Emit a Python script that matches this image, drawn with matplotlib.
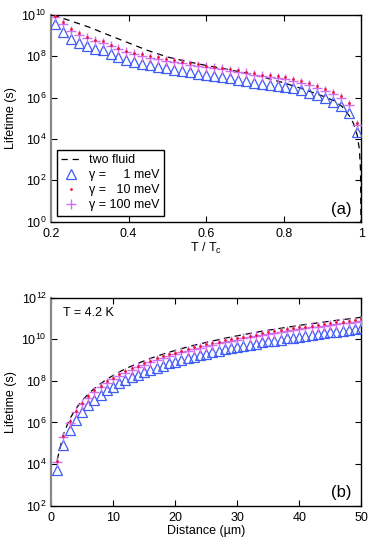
import matplotlib
matplotlib.use("Agg")
import matplotlib.pyplot as plt
import numpy as np

plt.rcParams['font.family'] = ['Liberation Sans', 'DejaVu Sans']
plt.rcParams['mathtext.fontset'] = 'custom'
plt.rcParams['mathtext.rm'] = 'Liberation Sans'
plt.rcParams['mathtext.it'] = 'Liberation Sans:italic'
plt.rcParams['lines.scale_dashes'] = False

# ---------------- data: panel (a) ----------------
t_red = [0.210, 0.2305, 0.251, 0.2715, 0.292, 0.3125, 0.333, 0.3535, 0.374, 0.3945,
         0.415, 0.4355, 0.456, 0.4765, 0.497, 0.5175, 0.538, 0.5585, 0.579, 0.5995,
         0.620, 0.6405, 0.661, 0.6815, 0.702, 0.7225, 0.743, 0.7635, 0.784, 0.8045,
         0.825, 0.8455, 0.866, 0.8865, 0.907, 0.9275, 0.948, 0.9685, 0.989]
# log10 lifetime, gamma = 10 meV
log_a_10 = [9.97, 9.66, 9.33, 9.12, 8.95, 8.80, 8.74, 8.56, 8.42, 8.28,
            8.18, 8.10, 8.02, 7.95, 7.87, 7.81, 7.74, 7.68, 7.61, 7.55,
            7.50, 7.45, 7.39, 7.32, 7.25, 7.18, 7.11, 7.08, 7.03, 6.98,
            6.90, 6.81, 6.70, 6.56, 6.42, 6.26, 6.08, 5.73, 4.78]
# gamma = 1 meV
log_a_1 = [9.58, 9.20, 8.86, 8.66, 8.50, 8.35, 8.29, 8.11, 7.97, 7.83,
           7.73, 7.65, 7.57, 7.50, 7.42, 7.36, 7.29, 7.23, 7.16, 7.10,
           7.05, 7.00, 6.94, 6.87, 6.80, 6.73, 6.66, 6.63, 6.58, 6.53,
           6.45, 6.36, 6.25, 6.11, 5.97, 5.81, 5.62, 5.25, 4.35]
# gamma = 100 meV
log_a_100 = [9.90, 9.58, 9.25, 9.04, 8.87, 8.72, 8.66, 8.48, 8.34, 8.20,
             8.10, 8.02, 7.94, 7.87, 7.79, 7.73, 7.66, 7.60, 7.53, 7.47,
             7.42, 7.37, 7.31, 7.24, 7.17, 7.10, 7.03, 7.00, 6.95, 6.90,
             6.82, 6.73, 6.62, 6.48, 6.34, 6.18, 6.00, 5.65, 4.70]
# two fluid model
t_tf = [0.205, 0.25, 0.30, 0.35, 0.40, 0.45, 0.50, 0.55, 0.60, 0.65,
        0.70, 0.75, 0.80, 0.85, 0.90, 0.93, 0.95, 0.97, 0.98, 0.99,
        0.995, 0.998, 0.9995]
log_a_tf = [10.00, 9.72, 9.40, 9.02, 8.65, 8.28, 7.97, 7.75, 7.56, 7.39,
            7.20, 6.98, 6.72, 6.42, 6.08, 5.85, 5.58, 5.10, 4.75, 4.15,
            3.50, 2.50, -1.0]

# ---------------- data: panel (b) ----------------
dist = [1, 2, 3, 4, 5, 6, 7, 8, 9, 10, 11, 12, 13, 14, 15, 16, 17, 18, 19, 20,
        21, 22, 23, 24, 25, 26, 27, 28, 29, 30, 31, 32, 33, 34, 35, 36, 37, 38, 39, 40,
        41, 42, 43, 44, 45, 46, 47, 48, 49, 50]
log_b_1 = [3.72, 4.92, 5.63, 6.13, 6.52, 6.83, 7.10, 7.33, 7.54, 7.72,
           7.89, 8.04, 8.18, 8.30, 8.42, 8.54, 8.64, 8.74, 8.84, 8.92,
           9.01, 9.09, 9.17, 9.24, 9.31, 9.38, 9.44, 9.51, 9.57, 9.63,
           9.68, 9.74, 9.79, 9.85, 9.90, 9.94, 9.99, 10.04, 10.08, 10.13,
           10.17, 10.21, 10.25, 10.29, 10.33, 10.37, 10.41, 10.44, 10.48, 10.52]
log_b_10 = [4.16, 5.36, 6.07, 6.57, 6.96, 7.27, 7.54, 7.77, 7.98, 8.16,
            8.33, 8.48, 8.62, 8.74, 8.86, 8.98, 9.08, 9.18, 9.28, 9.36,
            9.45, 9.53, 9.61, 9.68, 9.75, 9.82, 9.88, 9.95, 10.01, 10.07,
            10.12, 10.18, 10.23, 10.29, 10.34, 10.38, 10.43, 10.48, 10.52, 10.57,
            10.61, 10.65, 10.69, 10.73, 10.77, 10.81, 10.85, 10.88, 10.92, 10.96]
log_b_100 = [4.08, 5.28, 5.99, 6.49, 6.88, 7.19, 7.46, 7.69, 7.90, 8.08,
             8.25, 8.40, 8.54, 8.66, 8.78, 8.90, 9.00, 9.10, 9.20, 9.28,
             9.37, 9.45, 9.53, 9.60, 9.67, 9.74, 9.80, 9.87, 9.93, 9.99,
             10.04, 10.10, 10.15, 10.21, 10.26, 10.30, 10.35, 10.40, 10.44, 10.49,
             10.53, 10.57, 10.61, 10.65, 10.69, 10.73, 10.77, 10.80, 10.84, 10.88]
log_b_tf = [4.21, 5.44, 6.16, 6.66, 7.05, 7.37, 7.64, 7.87, 8.08, 8.26,
            8.43, 8.58, 8.72, 8.84, 8.96, 9.08, 9.18, 9.28, 9.38, 9.46,
            9.55, 9.63, 9.71, 9.78, 9.85, 9.92, 9.98, 10.05, 10.11, 10.17,
            10.22, 10.28, 10.33, 10.39, 10.44, 10.48, 10.53, 10.58, 10.62, 10.67,
            10.71, 10.75, 10.79, 10.83, 10.87, 10.91, 10.95, 10.98, 11.02, 11.06]

labels = ['two fluid', 'γ =     1 meV', 'γ =   10 meV', 'γ = 100 meV']

BLUE = '#3f5cf5'
RED = '#f0103a'
VIOLET = '#d070f0'

W, H = 374, 543
fig = plt.figure(figsize=(W / 100, H / 100), dpi=100)
L = 51 / W
R = 361.3 / W
axA = fig.add_axes([L, 1 - 221.7 / H, R - L, (221.7 - 15) / H])
axB = fig.add_axes([L, 1 - 505.7 / H, R - L, (505.7 - 297.7) / H])


def draw(ax, x, y1, y10, y100, xt, ytf):
    p = lambda v: 10.0 ** np.asarray(v)
    h0, = ax.plot(xt, p(ytf), color='black', lw=0.9, dashes=(4.5, 3.5), zorder=2)
    h1, = ax.plot(x, p(y1), ls='none', marker='^', ms=7.5, mfc='none', mec=BLUE,
                  mew=0.9, zorder=3)
    h3, = ax.plot(x, p(y100), ls='none', marker='+', ms=6.5, mec=VIOLET, mew=1.0, zorder=4)
    h2, = ax.plot(x, p(y10), ls='none', marker='o', ms=2.0, mfc=RED, mec=RED, mew=0,
                  zorder=5)
    return [h0, h1, h2, h3]


def style(ax):
    ax.set_yscale('log')
    ax.tick_params(which='major', direction='in', top=True, right=True, length=4,
                   width=0.8, labelsize=9)
    ax.tick_params(axis='x', pad=4.5)
    ax.tick_params(axis='y', pad=3)
    ax.minorticks_off()
    ax.tick_params(which='minor', length=0)
    for s in ['top', 'right', 'bottom']:
        ax.spines[s].set_linewidth(1.0)
        ax.spines[s].set_color('black')
    ax.spines['left'].set_color('#888888')
    ax.spines['left'].set_linewidth(1.6)


handles = draw(axA, t_red, log_a_1, log_a_10, log_a_100, t_tf, log_a_tf)
style(axA)
axA.set_xlim(0.2, 1.0)
axA.set_ylim(1, 1e10)
axA.set_xticks([0.2, 0.4, 0.6, 0.8, 1.0])
axA.set_xticklabels(['0.2', '0.4', '0.6', '0.8', '1'])
axA.set_yticks([10.0 ** k for k in range(0, 11, 2)])
axA.set_xlabel('T / T$_\\mathregular{c}$', fontsize=9, labelpad=1)
axA.set_ylabel('Lifetime (s)', fontsize=9, labelpad=3)
axA.text(0.935, 0.057, '(a)', transform=axA.transAxes, fontsize=12,
         ha='center', va='center')
leg = axA.legend(handles, labels, loc='lower left', bbox_to_anchor=(0.019, 0.029),
                 borderaxespad=0, fancybox=False, edgecolor='black', framealpha=1,
                 fontsize=9, handlelength=1.6, handletextpad=0.6, labelspacing=0.25,
                 borderpad=0.35)
leg.get_frame().set_linewidth(1.0)

draw(axB, dist, log_b_1, log_b_10, log_b_100, dist, log_b_tf)
style(axB)
axB.set_xlim(0, 50)
axB.set_ylim(1e2, 1e12)
axB.set_xticks([0, 10, 20, 30, 40, 50])
axB.set_yticks([10.0 ** k for k in range(2, 13, 2)])
axB.set_xlabel('Distance (µm)', fontsize=9, labelpad=1)
axB.set_ylabel('Lifetime (s)', fontsize=9, labelpad=3)
axB.text(0.04, 0.926, 'T = 4.2 K', transform=axB.transAxes, fontsize=9,
         ha='left', va='center')
axB.text(0.935, 0.064, '(b)', transform=axB.transAxes, fontsize=12,
         ha='center', va='center')

fig.savefig('out.png', dpi=100)
